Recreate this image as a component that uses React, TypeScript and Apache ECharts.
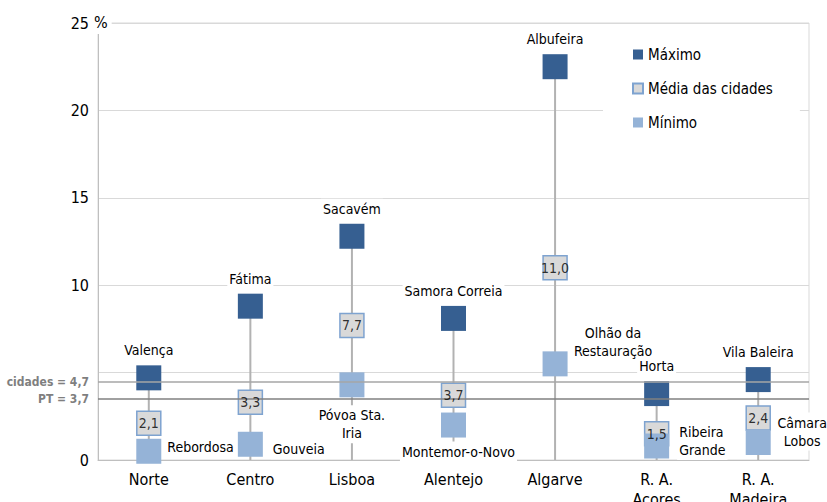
import React, { useEffect, useRef } from 'react';
import * as echarts from 'echarts';

const categories = ['Norte', 'Centro', 'Lisboa', 'Alentejo', 'Algarve', 'R. A.\nAçores', 'R. A.\nMadeira'];
const maxValues = [4.7, 8.8, 12.8, 8.1, 22.5, 3.8, 4.6];
const maxCities = ['Valença', 'Fátima', 'Sacavém', 'Samora Correia', 'Albufeira', 'Horta', 'Vila Baleira'];
const meanValues = [2.1, 3.3, 7.7, 3.7, 11.0, 1.5, 2.4];
const minValues = [0.5, 0.9, 4.3, 2.0, 5.5, 0.8, 1.0];
const minCities = ['Rebordosa', 'Gouveia', 'Póvoa Sta.\nIria', 'Montemor-o-Novo', 'Olhão da\nRestauração', 'Ribeira\nGrande', 'Câmara\nLobos'];
const refLineLabels = ['cidades = 4,7', 'PT = 3,7'];
const refLinePositions = [4.45, 3.5];
const hiddenTickLabels = [5];
const seriesNames = ['Máximo', 'Média das cidades', 'Mínimo'];

const FONT = "Tahoma, 'DejaVu Sans Condensed', 'DejaVu Sans', sans-serif";

// label placement for the minimum labels (style only)
const minLabelLayout: any[] = [
  { position: 'right', distance: 4, offset: [0, -4] },
  { position: 'right', distance: 8, offset: [0, 5] },
  { position: 'bottom', distance: 8, offset: [0, 0], align: 'center' },
  { position: 'bottom', distance: 4, offset: [5, 0] },
  { position: 'inside', offset: [58, -22], align: 'center' },
  { position: 'right', distance: 8, offset: [0, -5] },
  { position: 'inside', offset: [44, -11], align: 'center' },
];

export default function App() {
  const ref = useRef<HTMLDivElement>(null);
  useEffect(() => {
    if (!ref.current) return;
    const chart = echarts.init(ref.current, undefined, { renderer: 'svg' });
    const labelBase = {
      fontFamily: FONT,
      fontSize: 14,
      color: '#000',
      backgroundColor: '#fff',
      padding: [1, 2],
      lineHeight: 18,
    };
    const option: any = {
      animation: false,
      backgroundColor: '#fff',
      grid: {
        left: 98,
        right: 18,
        top: 23,
        bottom: 42,
        containLabel: false,
        outerBoundsMode: 'none',
        show: true,
        borderColor: '#d9d9d9',
        borderWidth: 1,
      },
      legend: {
        orient: 'vertical',
        left: 603,
        top: 37,
        padding: [10, 27, 10, 29],
        backgroundColor: '#fff',
        itemWidth: 10,
        itemHeight: 10,
        itemGap: 19,
        selectedMode: false,
        data: seriesNames.map((n) => ({ name: n, icon: 'rect' })),
        textStyle: { fontFamily: FONT, fontSize: 15, color: '#000' },
      },
      xAxis: {
        type: 'category',
        data: categories,
        axisLine: { lineStyle: { color: '#bfbfbf', width: 1 } },
        axisTick: { show: false },
        axisLabel: {
          fontFamily: FONT,
          fontSize: 16,
          color: '#000',
          margin: 9,
          lineHeight: 20,
          interval: 0,
        },
      },
      yAxis: {
        type: 'value',
        min: 0,
        max: 25,
        interval: 5,
        axisLine: { show: true, lineStyle: { color: '#bfbfbf', width: 1 } },
        axisTick: { show: false },
        splitLine: { lineStyle: { color: '#d9d9d9', width: 1 } },
        axisLabel: {
          fontFamily: FONT,
          fontSize: 16,
          color: '#000',
          margin: 9,
          formatter: (v: number) => (hiddenTickLabels.indexOf(v) >= 0 ? '' : String(v)),
        },
      },
      graphic: [
        {
          type: 'text',
          x: 92,
          y: 22,
          z: 100,
          style: {
            text: '%',
            fontFamily: FONT,
            fontSize: 16,
            fill: '#000',
            verticalAlign: 'middle',
            backgroundColor: '#fff',
            padding: [4, 4, 4, 2],
          },
        },
      ],
      series: [
        {
          type: 'bar',
          name: 'range',
          data: maxValues,
          barWidth: 2,
          itemStyle: { color: '#b2b2b2' },
          silent: true,
          z: 1,
        },
        {
          type: 'scatter',
          name: seriesNames[0],
          data: maxValues,
          symbol: 'rect',
          symbolSize: 25,
          itemStyle: { color: '#365f91', opacity: 1 },
          label: {
            show: true,
            position: 'top',
            distance: 5,
            ...labelBase,
            formatter: (p: any) => maxCities[p.dataIndex],
          },
          silent: true,
          z: 2,
        },
        {
          type: 'scatter',
          name: seriesNames[1],
          data: meanValues,
          symbol: 'rect',
          symbolSize: 24,
          itemStyle: { color: '#d9d9d9', borderColor: '#7ea3d0', borderWidth: 1.5, opacity: 1 },
          label: { show: false },
          silent: true,
          z: 2,
        },
        {
          type: 'scatter',
          name: seriesNames[2],
          data: minValues.map((v, i) => ({
            value: v,
            label: { ...minLabelLayout[i] },
          })),
          symbol: 'rect',
          symbolSize: 25,
          itemStyle: { color: '#95b3d7', opacity: 1 },
          label: {
            show: true,
            ...labelBase,
            formatter: (p: any) => minCities[p.dataIndex],
          },
          silent: true,
          z: 2,
        },
        {
          type: 'scatter',
          name: 'meanLabels',
          data: meanValues,
          symbol: 'rect',
          symbolSize: 24,
          itemStyle: { color: 'rgba(0,0,0,0)', borderWidth: 0 },
          label: {
            show: true,
            position: 'inside',
            fontFamily: FONT,
            fontSize: 14,
            color: '#000',
            formatter: (p: any) => Number(p.value).toFixed(1).replace('.', ','),
          },
          silent: true,
          z: 5,
          markLine: {
            silent: true,
            symbol: 'none',
            animation: false,
            data: [
              {
                yAxis: refLinePositions[0],
                lineStyle: { color: '#a6a6a6', width: 1.5, type: 'solid' },
                label: {
                  formatter: refLineLabels[0],
                  position: 'start',
                  distance: 9,
                  fontFamily: FONT,
                  fontSize: 12,
                  fontWeight: 'bold',
                  color: '#7f7f7f',
                  padding: [0, 0, 8, 0],
                },
              },
              {
                yAxis: refLinePositions[1],
                lineStyle: { color: '#808080', width: 1.5, type: 'solid' },
                label: {
                  formatter: refLineLabels[1],
                  position: 'start',
                  distance: 9,
                  fontFamily: FONT,
                  fontSize: 12,
                  fontWeight: 'bold',
                  color: '#7f7f7f',
                },
              },
            ],
          },
        },
      ],
    };
    chart.setOption(option);
    return () => chart.dispose();
  }, []);
  return (
    <div
      ref={ref}
      style={{ position: 'fixed', left: 0, top: 0, width: 827, height: 502 }}
    />
  );
}
